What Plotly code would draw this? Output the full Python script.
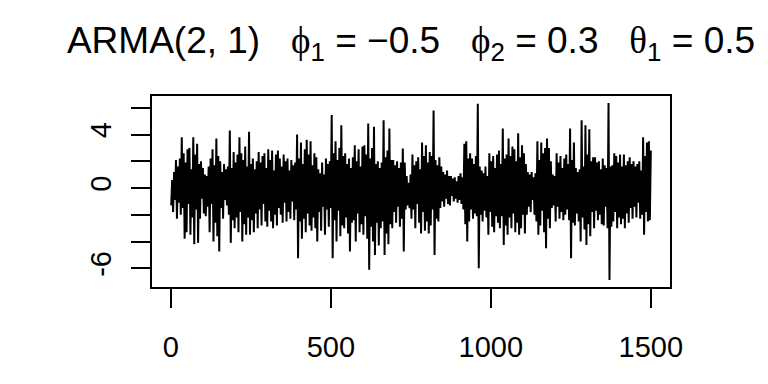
import numpy as np
import plotly.graph_objects as go

# Simulated ARMA(2,1) series, values read (estimated) from the reference picture
series_values = [
    -1.3, 0.6, -1.8, 1.2, -0.9, 2.1, -2.3, 1.6, -1.1, 2.2,
    -2.0, 3.8, -1.5, 2.6, -3.8, 1.9, -3.3, 2.9, -1.2, 3.0,
    -3.5, 1.4, -2.2, 3.8, -4.2, 2.5, -1.6, 3.3, -4.1, 1.8,
    -2.3, 2.0, -0.8, 1.5, -1.9, 1.0, -2.1, 0.9, -1.4, 1.6,
    -3.3, 2.2, -1.2, 2.9, -4.0, 1.7, -2.6, 3.7, -3.6, 2.4,
    -4.75, 2.0, -1.5, 1.2, -2.3, 1.8, -0.9, 1.4, -1.3, 1.6,
    -2.0, 4.3, -4.1, 1.5, -2.4, 2.7, -3.0, 1.9, -2.2, 2.5,
    -3.3, 3.8, -1.8, 2.6, -4.0, 2.1, -2.7, 3.1, -3.5, 1.6,
    -2.2, 4.2, -3.5, 1.8, -2.4, 2.2, -3.3, 1.4, -1.9, 2.0,
    -3.0, 2.7, -1.6, 1.9, -2.8, 2.4, -1.2, 2.6, -2.5, 1.5,
    -2.9, 2.9, -1.7, 2.1, -2.5, 2.8, -3.0, 1.3, -2.0, 2.5,
    -2.8, 2.8, -1.5, 2.2, -2.0, 1.6, -2.6, 2.5, -1.1, 2.0,
    -2.5, 2.2, -1.8, 1.3, -2.3, 2.1, -1.0, 1.7, -2.4, 1.9,
    -1.6, 4.0, -5.25, 2.2, -2.5, 3.4, -3.8, 1.8, -2.3, 2.9,
    -3.3, 3.6, -1.9, 2.5, -2.8, 3.5, -3.2, 1.7, -2.2, 2.6,
    -3.0, 2.3, -4.0, 1.4, -1.8, 1.1, -3.2, 1.9, -1.4, 1.0,
    -3.5, 2.2, -1.6, 1.8, -2.9, 2.0, -1.5, 5.45, -5.25, 2.6,
    -2.4, 3.5, -4.0, 2.1, -1.7, 3.0, -3.6, 4.7, -2.8, 2.4,
    -3.0, 2.6, -2.2, 1.8, -3.4, 2.2, -4.75, 1.5, -2.6, 2.3,
    -2.4, 3.2, -4.0, 2.0, -1.9, 2.9, -3.3, 1.6, -2.7, 3.1,
    -3.5, 3.2, -2.1, 2.5, -3.8, 4.83, -6.1, 2.2, -2.9, 3.0,
    -4.0, 4.58, -5.0, 1.8, -2.6, 2.0, -4.3, 1.5, -3.0, 1.9,
    -2.5, 5.07, -5.0, 2.3, -3.4, 2.8, -4.2, 4.45, -2.7, 2.1,
    -3.0, 2.1, -1.8, 1.7, -2.6, 2.0, -1.4, 1.5, -2.9, 1.9,
    -2.3, 2.96, -4.75, 1.9, -1.6, 0.9, -1.3, 0.4, -1.5, 1.0,
    -2.3, 2.5, -1.6, 1.7, -3.0, 2.0, -1.2, 2.3, -2.6, 1.4,
    -3.4, 3.4, -1.8, 2.4, -3.2, 3.2, -2.5, 1.9, -3.4, 2.7,
    -2.8, 2.4, -1.6, 5.8, -5.0, 2.1, -2.3, 1.7, -2.5, 2.3,
    -1.5, 1.6, -1.0, 1.2, -1.4, 1.0, -0.8, 1.3, -1.2, 0.9,
    -1.3, 0.9, -0.6, 0.7, -1.0, 0.8, -0.8, 0.5, -1.1, 0.9,
    -0.9, 1.1, -1.2, 0.8, -1.6, 3.3, -2.7, 3.5, -4.0, 2.2,
    -2.5, 2.6, -1.6, 2.2, -2.3, 1.8, -1.9, 2.4, -2.1, 6.3,
    -6.0, 1.6, -2.0, 1.3, -2.5, 1.1, -1.7, 1.6, -2.2, 0.9,
    -3.5, 2.6, -1.8, 2.0, -2.9, 2.4, -3.3, 1.5, -2.1, 2.5,
    -2.6, 2.8, -3.0, 1.8, -2.1, 4.45, -4.25, 2.2, -2.8, 2.5,
    -3.5, 3.7, -2.2, 2.4, -3.0, 3.1, -1.9, 2.9, -3.3, 2.0,
    -2.6, 4.1, -3.5, 2.3, -3.0, 3.2, -2.0, 2.6, -3.4, 1.8,
    -2.0, 1.2, -1.4, 1.0, -1.8, 1.2, -0.9, 0.8, -2.0, 1.1,
    -2.5, 3.5, -3.5, 2.1, -2.8, 3.4, -1.7, 2.6, -3.3, 3.0,
    -4.5, 3.7, -2.3, 3.0, -3.0, 2.0, -1.5, 1.0, -1.3, 0.9,
    -2.5, 2.6, -1.4, 1.9, -2.3, 2.4, -1.8, 1.5, -2.4, 2.2,
    -2.0, 2.5, -1.6, 1.8, -2.4, 4.45, -5.25, 2.1, -2.6, 3.4,
    -2.8, 1.5, -1.9, 1.2, -2.5, 1.4, -4.0, 5.07, -2.2, 1.6,
    -3.1, 4.7, -4.25, 2.5, -2.7, 4.4, -3.6, 2.0, -1.8, 2.3,
    -3.0, 2.3, -1.7, 1.9, -2.4, 2.0, -2.0, 1.4, -2.7, 2.2,
    -2.8, 1.7, -1.4, 1.5, -3.0, 6.35, -6.87, 1.6, -2.9, 1.7,
    -2.5, 2.6, -1.8, 2.4, -3.0, 1.9, -2.2, 2.5, -2.7, 1.6,
    -2.3, 2.5, -3.0, 1.7, -1.9, 2.0, -2.6, 2.3, -1.5, 1.8,
    -2.3, 2.0, -1.4, 1.6, -2.2, 1.8, -1.1, 2.0, -2.3, 1.3,
    -2.0, 3.8, -3.5, 2.4, -1.8, 3.4, -2.5, 3.5, -2.4, 2.8,
]
n_obs = 1500
x_tick_values = [0, 500, 1000, 1500]
x_tick_labels = ["0", "500", "1000", "1500"]
y_tick_values = [-6, -4, -2, 0, 2, 4, 6]
y_tick_labels = ["-6", "", "", "0", "", "4", ""]

time_index = np.linspace(1, n_obs, len(series_values))

# R-style 4% axis expansion
xmin, xmax = 1, n_obs
xpad = 0.04 * (xmax - xmin)
ymin, ymax = min(series_values), max(series_values)
ypad = 0.04 * (ymax - ymin)

greek = "font-family:'Liberation Serif', 'DejaVu Serif', serif"
nb = "\u00a0"
title_text = (
    "ARMA(2,\u00a01)" + nb * 3
    + f"<span style=\"{greek}\">\u03d5</span><sub>1</sub>{nb}={nb}\u22120.5" + nb * 3
    + f"<span style=\"{greek}\">\u03d5</span><sub>2</sub>{nb}={nb}0.3" + nb * 3
    + f"<span style=\"{greek}\">\u03b8</span><sub>1</sub>{nb}={nb}0.5"
)

fig = go.Figure()
fig.add_trace(go.Scatter(
    x=time_index, y=series_values, mode="lines",
    line=dict(color="black", width=2), hoverinfo="skip", showlegend=False,
))

tick_font = dict(family="Liberation Sans, Arial, sans-serif", size=29, color="black")
fig.update_layout(
    width=768, height=384, autosize=False,
    margin=dict(l=152, r=98, t=96, b=97),
    paper_bgcolor="white", plot_bgcolor="white",
    title=dict(
        text=title_text, x=0.5, xref="paper", xanchor="center",
        y=1 - 40 / 384, yref="container", yanchor="middle",
        font=dict(family="Liberation Sans, Arial, sans-serif", size=37, color="black"),
    ),
    xaxis=dict(
        range=[xmin - xpad, xmax + xpad], showgrid=False, zeroline=False,
        showline=True, mirror=True, linecolor="black", linewidth=2,
        ticks="outside", ticklen=19, tickwidth=2, tickcolor="black",
        tickvals=x_tick_values, ticktext=x_tick_labels, tickfont=tick_font,
        ticklabelstandoff=14,
    ),
    yaxis=dict(
        range=[ymin - ypad, ymax + ypad], showgrid=False, zeroline=False,
        showline=True, mirror=True, linecolor="black", linewidth=2,
        ticks="outside", ticklen=19, tickwidth=2, tickcolor="black",
        tickvals=y_tick_values, ticktext=y_tick_labels, tickfont=tick_font,
        tickangle=-90, ticklabelstandoff=8,
    ),
)

fig.write_html("out.html")
